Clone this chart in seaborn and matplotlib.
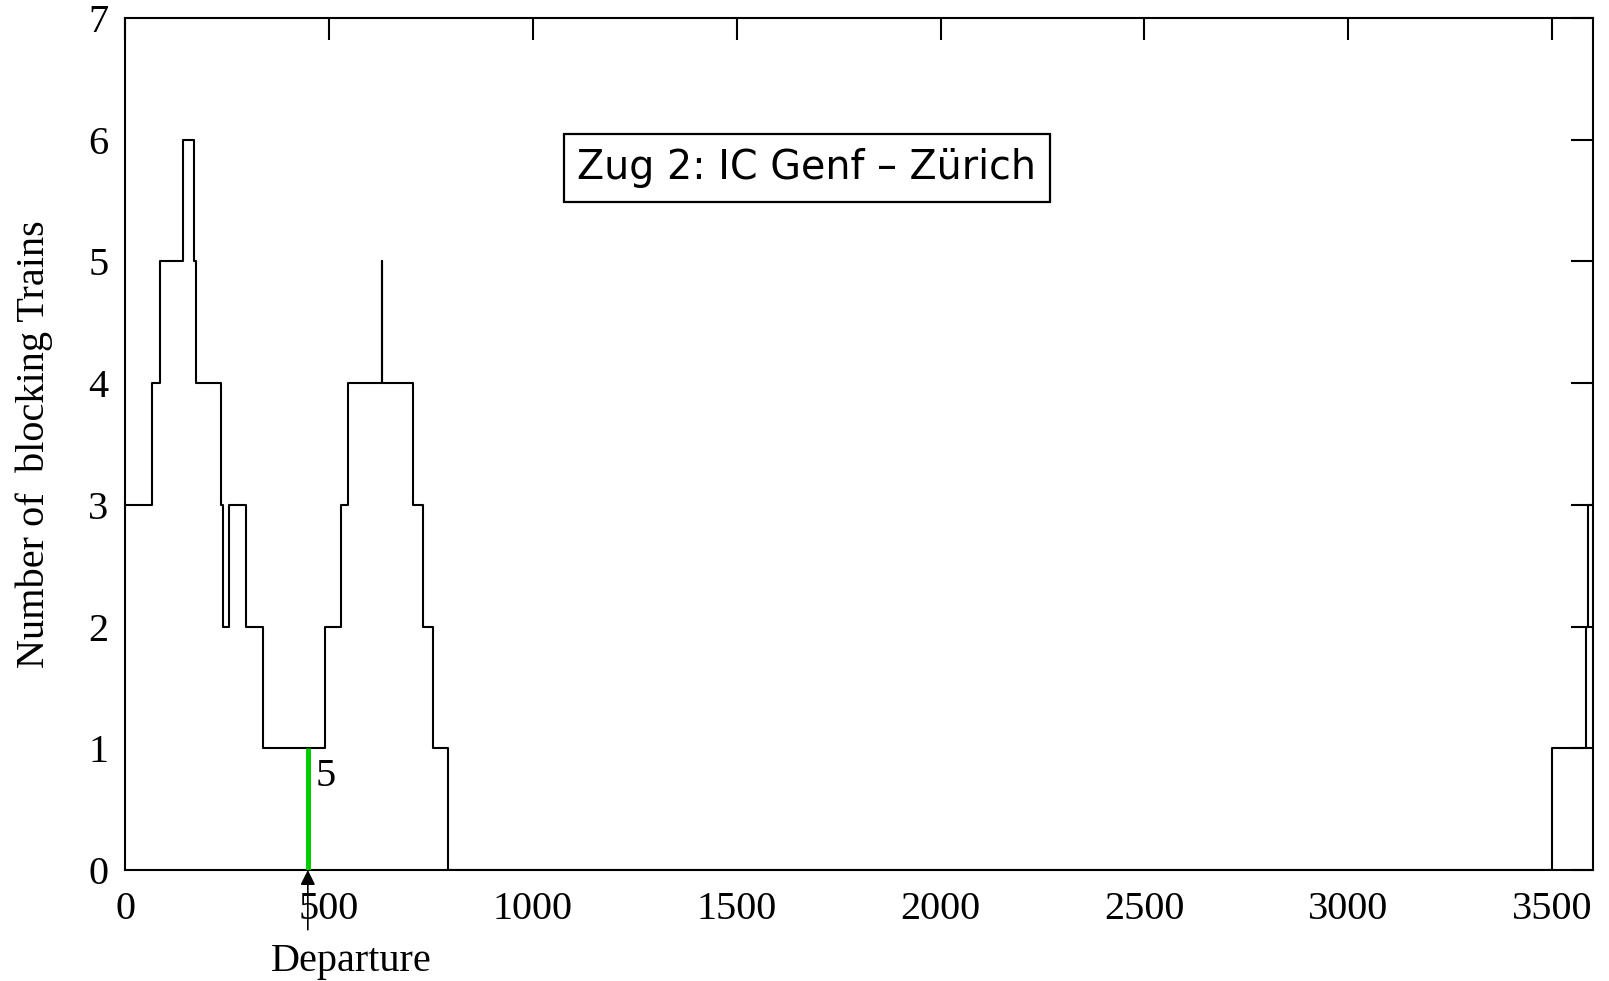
import matplotlib
matplotlib.use('Agg')
import matplotlib.pyplot as plt
import seaborn as sns
import pandas as pd

# Step profile: time (s) where the count changes, and the count from there on
time_s = [0, 66, 86, 143, 168, 174, 236, 240, 255, 296, 338, 489, 530, 547,
          631, 631, 707, 730, 755, 792, 3500, 3582, 3588, 3600]
blocking = [3, 4, 5, 6, 5, 4, 3, 2, 3, 2, 1, 2, 3, 4,
            5, 4, 3, 2, 1, 0, 1, 2, 3, 3]

departure_time = 448
departure_count = 1
departure_label = '5'
train_title = 'Zug 2: IC Genf \u2013 Z\u00fcrich'

x_ticks = [0, 500, 1000, 1500, 2000, 2500, 3000, 3500]
y_ticks = [0, 1, 2, 3, 4, 5, 6, 7]

df = pd.DataFrame({'time': time_s, 'count': blocking})

sns.set_style('white')
plt.rcParams['font.family'] = ['Liberation Serif', 'DejaVu Serif']
plt.rcParams['axes.linewidth'] = 1.5
plt.rcParams['text.color'] = 'black'
plt.rcParams['axes.labelcolor'] = 'black'

fig, ax = plt.subplots(figsize=(16.09, 9.81), dpi=100)
fig.subplots_adjust(left=0.0778, right=0.990, top=0.9817, bottom=0.1131)

# The blocking-trains curve as a step line
sns.lineplot(data=df, x='time', y='count', drawstyle='steps-post',
             estimator=None, sort=False, color='black', linewidth=1.5, ax=ax)

# Departure marker (green bar)
ax.vlines(departure_time, 0, departure_count, color='#00cc00', linewidth=3.6, zorder=3)
ax.text(departure_time + 45, 0.77, departure_label, fontsize=29,
        ha='center', va='center', color='black')

ax.annotate('', xy=(departure_time, 0), xytext=(departure_time, -0.49),
            arrowprops=dict(arrowstyle='-|>', color='black', lw=1.2,
                            mutation_scale=22, shrinkA=0, shrinkB=0),
            annotation_clip=False)
ax.text(554, -0.75, 'Departure', fontsize=29, ha='center', va='center',
        color='black')

# Title box
ax.text(1672, 5.77, train_title, fontsize=28.5, family='DejaVu Sans',
        ha='center', va='center', color='black',
        bbox=dict(boxstyle='square,pad=0.35', facecolor='white',
                  edgecolor='black', linewidth=1.6))

ax.set_xlim(0, 3600)
ax.set_ylim(0, 7)
ax.set_xticks(x_ticks)
ax.set_yticks(y_ticks)
ax.tick_params(direction='in', top=True, right=True, length=15.8, width=1.5,
               labelsize=29, color='black', labelcolor='black')
ax.tick_params(axis='x', pad=15)
ax.tick_params(axis='y', pad=12)
for s in ax.spines.values():
    s.set_color('black')

ax.set_xlabel('')
ax.set_ylabel('Number of  blocking Trains', fontsize=29, color='black')
ax.yaxis.set_label_coords(-0.062, 0.5)
ax.yaxis.label.set_va('center')

plt.savefig('out.png', dpi=100)
